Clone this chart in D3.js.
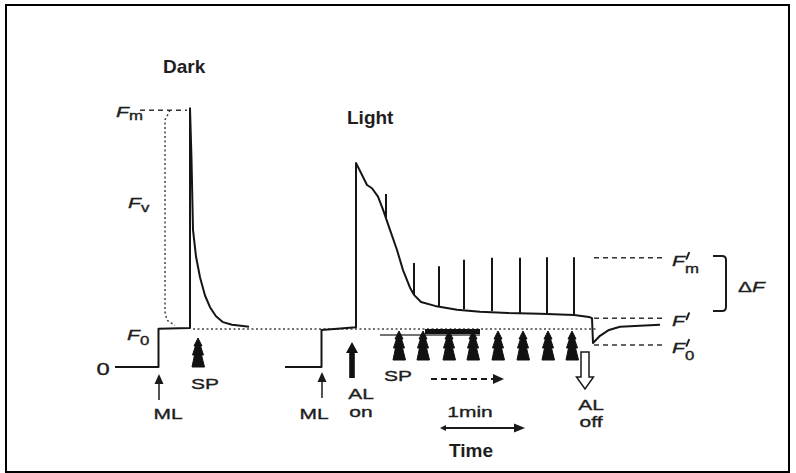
<!DOCTYPE html>
<html>
<head>
<meta charset="utf-8">
<script src="https://cdn.jsdelivr.net/npm/d3@7"></script>
<style>
  body { margin: 0; background: #fff; }
  svg { display: block; }
  text { font-family: Arial, "Liberation Sans", sans-serif; fill: #1e1e1e; }
  .lbl { font-size: 15px; stroke: #1e1e1e; stroke-width: 0.35px; }
  .title { font-size: 19px; font-weight: bold; }
</style>
</head>
<body>
<svg id="chart" width="796" height="473"></svg>
<script>
// fluorescence traces: [time units, relative fluorescence]
const darkTrace = [
  [3, 0], [11.7, 0], [11.7, 0.59], [18, 0.6], [18, 3.98], [18.3, 3.2], [18.6, 2.11],
  [19.2, 1.7], [20, 1.38], [21, 1.1], [22, 0.92], [23.2, 0.78], [24.6, 0.69],
  [26.4, 0.65], [28.6, 0.63], [29.8, 0.62]
];
const lightTrace = [
  [37, 0], [44.3, 0], [44.3, 0.57], [51.2, 0.61], [51.2, 3.14], [53.4, 2.8], [54.4, 2.75],
  [55.6, 2.62], [56.6, 2.42], [58, 2.11], [59.4, 1.8], [60.6, 1.49], [62, 1.22],
  [62.8, 1.11], [64.2, 1.0], [67, 0.94], [71.4, 0.88], [76, 0.85], [81.6, 0.83],
  [88, 0.82], [94.8, 0.8], [97.8, 0.77], [98.4, 0.75], [98.6, 0.37], [100, 0.48],
  [101.8, 0.57], [104, 0.62], [107, 0.63], [112, 0.65]
];

// saturation pulse spikes on the light trace
const spikeTimes = [57.2, 62.8, 67.8, 72.8, 78.4, 84, 89.4, 94.8];
const spikeTops  = [2.66, 1.6, 1.55, 1.65, 1.68, 1.68, 1.69, 1.69];
const spikeBases = [2.3, 1.11, 0.94, 0.89, 0.86, 0.83, 0.82, 0.8];

// saturating pulse (SP) marks
const darkPulseTimes  = [19.6];
const lightPulseTimes = [59.8, 64.6, 69.8, 74.6, 79.6, 84.6, 89.6, 94.4];

// light switching events
const eventNames = ["ML", "ML", "AL on", "AL off"];
const eventTimes = [11.8, 44.4, 50.4, 97];

// reference levels
const levelF0 = 0.585, levelFm = 3.95;
const primeNames  = ["m", "", "0"];
const primeValues = [1.68, 0.75, 0.34];

const oneMinute = [68, 85];

const svg = d3.select("#chart");
const x = d3.scaleLinear().domain([0, 140]).range([100, 800]);
const y = d3.scaleLinear().domain([0, 4]).range([367, 107]);

svg.append("rect")
  .attr("x", 6).attr("y", 5).attr("width", 783).attr("height", 467)
  .attr("fill", "none").attr("stroke", "#000").attr("stroke-width", 2);

const line = d3.line().x(d => x(d[0])).y(d => y(d[1]));

// dotted F0 level and the Fv guide
svg.append("line")
  .attr("x1", x(18.6)).attr("x2", x(99.4))
  .attr("y1", y(levelF0)).attr("y2", y(levelF0))
  .attr("stroke", "#444").attr("stroke-width", 1.6).attr("stroke-dasharray", "2,2.5");
svg.append("path")
  .attr("d", line([[14, levelFm], [13, 3.8], [13, 0.85], [13.4, 0.72], [15, 0.64]]))
  .attr("fill", "none").attr("stroke", "#444").attr("stroke-width", 1.5)
  .attr("stroke-dasharray", "2,2.5");

// dashed level lines
svg.append("line")
  .attr("x1", x(8)).attr("x2", x(17.4)).attr("y1", y(levelFm)).attr("y2", y(levelFm))
  .attr("stroke", "#333").attr("stroke-width", 1.5).attr("stroke-dasharray", "5,4");
svg.selectAll(".plevel")
  .data(primeValues)
  .enter()
  .append("line")
  .attr("x1", x(98.8)).attr("x2", x(112.4))
  .attr("y1", d => y(d)).attr("y2", d => y(d))
  .attr("stroke", "#333").attr("stroke-width", 1.5).attr("stroke-dasharray", "5,4");

// traces
[darkTrace, lightTrace].forEach(tr => {
  svg.append("path")
    .attr("d", line(tr))
    .attr("fill", "none").attr("stroke", "#151515").attr("stroke-width", 2)
    .attr("stroke-linejoin", "round");
});

svg.selectAll(".spike")
  .data(spikeTimes)
  .enter()
  .append("line")
  .attr("x1", d => x(d)).attr("x2", d => x(d))
  .attr("y1", (d, i) => y(spikeBases[i])).attr("y2", (d, i) => y(spikeTops[i]))
  .attr("stroke", "#151515").attr("stroke-width", 2);

// AL bar under the light trace
svg.append("line")
  .attr("x1", x(56)).attr("x2", x(76)).attr("y1", 335).attr("y2", 335)
  .attr("stroke", "#444").attr("stroke-width", 1.3);
svg.append("rect")
  .attr("x", x(65)).attr("y", 329).attr("width", x(76) - x(65)).attr("height", 5)
  .attr("fill", "#111");

// SP "tree" marks
function pulse(cx, top) {
  const p = [[0, 0], [4, 8], [2.5, 8], [5.5, 17], [3.5, 17], [6.5, 29],
             [-6, 29], [-3.5, 17], [-5.5, 17], [-2.5, 8], [-4, 8]];
  return "M" + p.map(q => (cx + q[0]) + "," + (top + q[1])).join("L") + "Z";
}
svg.selectAll(".dpulse")
  .data(darkPulseTimes).enter().append("path")
  .attr("d", d => pulse(x(d), 338))
  .attr("fill", "#111").attr("stroke", "#111").attr("stroke-width", 1).attr("stroke-linejoin", "round");
svg.selectAll(".lpulse")
  .data(lightPulseTimes).enter().append("path")
  .attr("d", d => pulse(x(d), 331))
  .attr("fill", "#111").attr("stroke", "#111").attr("stroke-width", 1).attr("stroke-linejoin", "round");

// event arrows
function thinUp(cx, top, bottom) {
  svg.append("line").attr("x1", cx).attr("x2", cx).attr("y1", bottom).attr("y2", top + 7)
    .attr("stroke", "#1a1a1a").attr("stroke-width", 1.5);
  svg.append("path").attr("d", `M${cx},${top}L${cx + 4.5},${top + 10}L${cx - 4.5},${top + 10}Z`)
    .attr("fill", "#1a1a1a");
}
thinUp(x(eventTimes[0]), 374, 400);
thinUp(x(eventTimes[1]), 372, 398);

const on = x(eventTimes[2]);
svg.append("path")
  .attr("d", `M${on},342L${on + 6},353L${on + 2.8},353L${on + 2.8},378L${on - 2.8},378L${on - 2.8},353L${on - 6},353Z`)
  .attr("fill", "#111");

const off = x(eventTimes[3]);
svg.append("path")
  .attr("d", `M${off - 4},352L${off + 4},352L${off + 4},377L${off + 8.5},377L${off},389L${off - 8.5},377L${off - 4},377Z`)
  .attr("fill", "#fff").attr("stroke", "#1a1a1a").attr("stroke-width", 1.5);

// SP dashed arrow
svg.append("line").attr("x1", 431).attr("x2", 494).attr("y1", 379).attr("y2", 379)
  .attr("stroke", "#1a1a1a").attr("stroke-width", 1.8).attr("stroke-dasharray", "6,4");
svg.append("path").attr("d", "M504,379L493,374L493,384Z").attr("fill", "#1a1a1a");

// 1 min scale arrow
const m0 = x(oneMinute[0]), m1 = x(oneMinute[1]);
svg.append("line").attr("x1", m0 + 3).attr("x2", m1 - 8).attr("y1", 428).attr("y2", 428)
  .attr("stroke", "#1a1a1a").attr("stroke-width", 2);
svg.append("path").attr("d", `M${m1},428L${m1 - 11},423.5L${m1 - 11},432.5Z`).attr("fill", "#1a1a1a");
svg.append("path").attr("d", `M${m0},428L${m0 + 6},425L${m0 + 6},431Z`).attr("fill", "#1a1a1a");

// bracket for delta F
svg.append("path")
  .attr("d", "M713,256L722,256Q726,256 726,260L726,307Q726,311 722,311L713,311")
  .attr("fill", "none").attr("stroke", "#1a1a1a").attr("stroke-width", 2);

// labels
function label(px, py, str, anchor = "middle") {
  return svg.append("text")
    .attr("class", "lbl")
    .attr("transform", `translate(${px},${py}) scale(1.4,1)`)
    .attr("text-anchor", anchor)
    .text(str);
}
function fLabel(px, py, sub, prime, subDy) {
  const t = label(px, py, "", "start");
  t.append("tspan").attr("font-style", "italic").text("F");
  if (prime) {
    // prime drawn as a short stroke so it sits above the subscript
    svg.append("path")
      .attr("d", `M${px + 17},${py - 13}L${px + 14.5},${py - 7}`)
      .attr("stroke", "#1e1e1e").attr("stroke-width", 2).attr("stroke-linecap", "round");
  }
  if (sub) {
    label(px + 13, py + subDy, sub, "start").style("font-size", "12px");
  }
}

svg.append("text").attr("class", "title").attr("x", 163).attr("y", 73).text("Dark");
svg.append("text").attr("class", "title").attr("x", 347).attr("y", 124).text("Light");
svg.append("text").attr("class", "title").attr("x", 449).attr("y", 457).text("Time");

fLabel(116, 117, "m", false, 3);
fLabel(128, 208, "v", false, 4);
fLabel(127, 340, "0", false, 5);
label(103, 375, "0").style("font-size", "17px");

primeNames.forEach((n, i) => {
  fLabel(672, y(primeValues[i]) + 8, n, true, 7);
});
const dl = label(738, 292, "Δ", "start");
dl.append("tspan").attr("font-style", "italic").text("F");

label(x(eventTimes[0]) + 9, 419, "ML");
label(x(eventTimes[1]) - 8, 419, "ML");
label(361, 399, "AL");
label(361, 417, "on");
label(591, 410, "AL");
label(591, 427, "off");
label(205, 389, "SP");
label(398, 381, "SP");
label(470, 417, "1min");
</script>
</body>
</html>
